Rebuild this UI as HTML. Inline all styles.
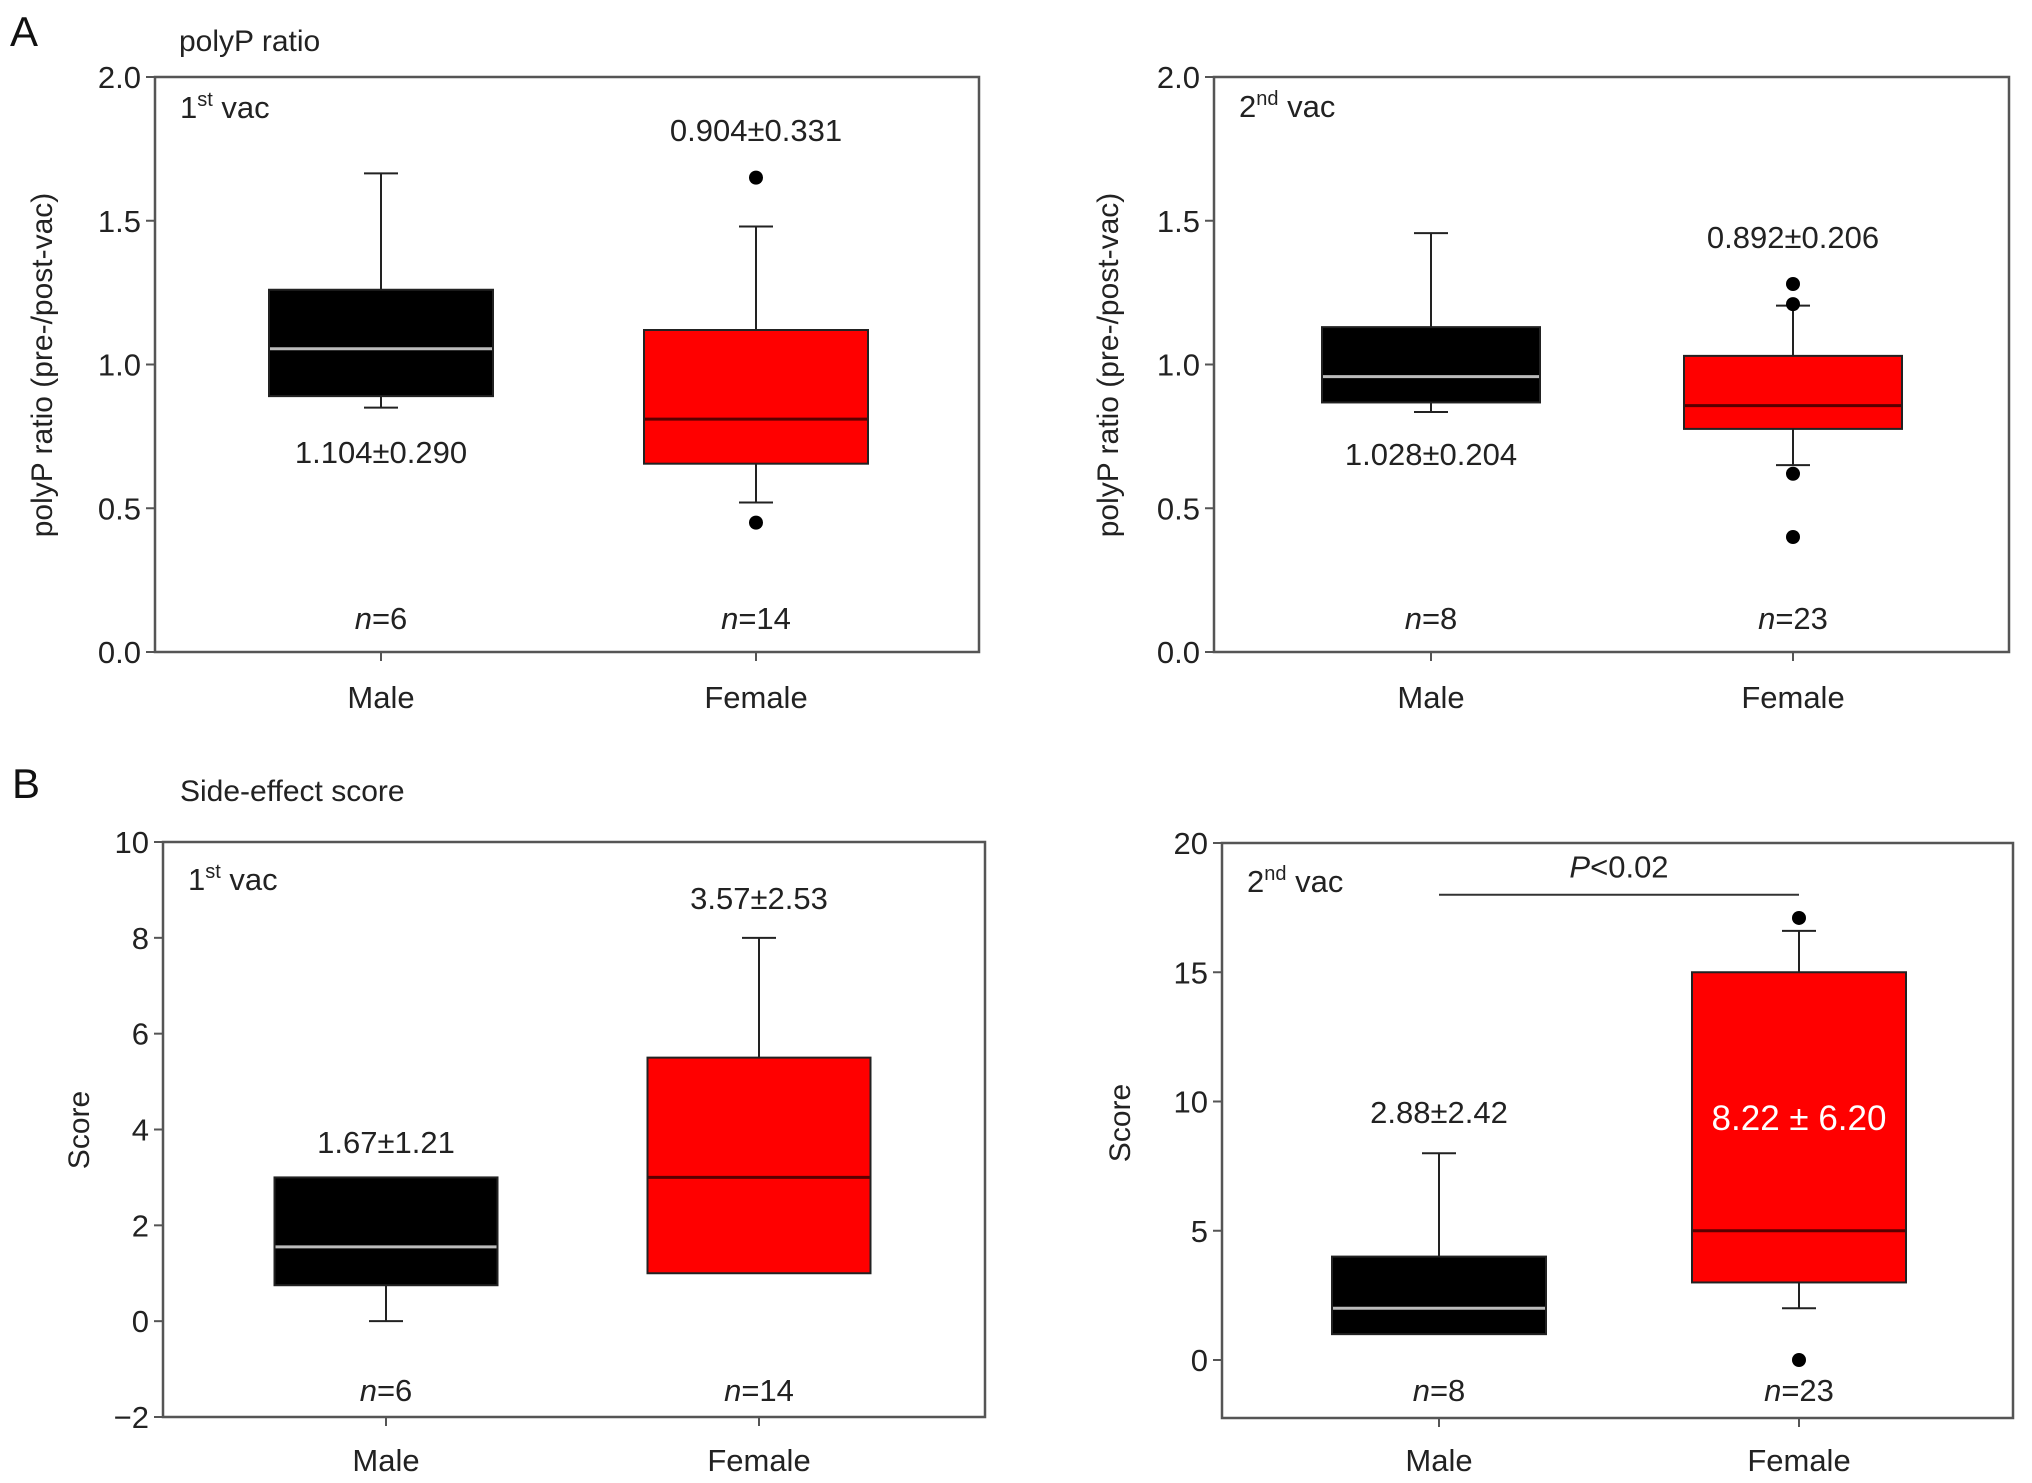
<!DOCTYPE html>
<html><head><meta charset="utf-8"><style>
html,body{margin:0;padding:0;background:#fff;}
svg{display:block;font-family:"Liberation Sans",Arial,sans-serif;}
</style></head><body>
<svg id="fig" width="2032" height="1483" viewBox="0 0 2032 1483" xmlns="http://www.w3.org/2000/svg">
<text x="10" y="46" font-size="42" fill="#111">A</text>
<text x="179" y="51" font-size="30" fill="#222">polyP ratio</text>
<text x="12" y="798" font-size="42" fill="#111">B</text>
<text x="180" y="801" font-size="30" fill="#222">Side-effect score</text>
</svg>
<script>
// ---- data ----
const categories = ["Male", "Female"];
const tickLabelsA = ["0.0","0.5","1.0","1.5","2.0"];
const tickValuesA = [0, 0.5, 1.0, 1.5, 2.0];
const tickLabelsB1 = ["\u22122","0","2","4","6","8","10"];
const tickValuesB1 = [-2,0,2,4,6,8,10];
const tickLabelsB2 = ["0","5","10","15","20"];
const tickValuesB2 = [0,5,10,15,20];
// [whiskerLow, Q1, median, Q3, whiskerHigh]
const a1Male = [0.85, 0.89, 1.055, 1.26, 1.665];
const a1Female = [0.52, 0.655, 0.81, 1.12, 1.48];
const a1FemaleOutliers = [1.65, 0.45];
const a2Male = [0.835, 0.868, 0.958, 1.13, 1.457];
const a2Female = [0.65, 0.776, 0.857, 1.03, 1.205];
const a2FemaleOutliers = [1.28, 1.21, 0.62, 0.40];
const b1Male = [0, 0.75, 1.55, 3.0, 3.0];
const b1Female = [1.0, 1.0, 3.0, 5.5, 8.0];
const b2Male = [1.0, 1.0, 2.0, 4.0, 8.0];
const b2Female = [2.0, 3.0, 5.0, 15.0, 16.6];
const b2FemaleOutliers = [17.1, 0];
const statsA1 = ["1.104\u00b10.290", "0.904\u00b10.331"];
const statsA2 = ["1.028\u00b10.204", "0.892\u00b10.206"];
const statsB1 = ["1.67\u00b11.21", "3.57\u00b12.53"];
const statsB2 = ["2.88\u00b12.42", "8.22 \u00b1 6.20"];
const nA1 = ["6","14"], nA2 = ["8","23"], nB1 = ["6","14"], nB2 = ["8","23"];
const sigValue = 18;

const NS = "http://www.w3.org/2000/svg";
const svg = document.getElementById("fig");
function mk(tag, attrs, parent){
  const e = document.createElementNS(NS, tag);
  for (const k in attrs) e.setAttribute(k, attrs[k]);
  (parent||svg).appendChild(e);
  return e;
}

function panel(cfg){
  const g = mk("g", {});
  
  
  const y = v => cfg.y0 + (v - cfg.vmin) / (cfg.vmax - cfg.vmin) * (cfg.y1 - cfg.y0);
  const xc = i => cfg.cx[i];
  const fb = cfg.frameBottom || cfg.y0;
  const fr = mk("rect", {x:cfg.left, y:cfg.y1, width:cfg.right-cfg.left, height:fb-cfg.y1, fill:"none", stroke:"#555", "stroke-width":2.5}, g);
  
  
  cfg.tickValues.forEach((v,i)=>{
    const t = mk("line", {x1:cfg.left-9, x2:cfg.left, y1:y(v), y2:y(v), stroke:"#555", "stroke-width":2}, g);
    
    
    const l = mk("text", {x:cfg.left-14, y:y(v)+11, "font-size":31, "text-anchor":"end", fill:"#222"}, g);
    l.textContent = cfg.tickLabels[i];
    
    
  });
  const yt = mk("text", {x:0, y:0, "font-size":30, "text-anchor":"middle", fill:"#222", transform:"translate("+cfg.ytx+","+cfg.yty+") rotate(-90)"}, g);
  yt.textContent = cfg.ytitle;
  
  
  const vl = mk("text", {x:cfg.left+25, y:cfg.vacY, "font-size":31, fill:"#222"}, g);
  vl.innerHTML = cfg.vacNum + '<tspan dy="-12" font-size="20">' + cfg.vacSup + '</tspan><tspan dy="12"> vac</tspan>';
  
  
  categories.forEach((c,i)=>{
    const t = mk("line", {x1:xc(i), x2:xc(i), y1:fb, y2:fb+9, stroke:"#555", "stroke-width":2}, g);
    
    
    const l = mk("text", {x:xc(i), y:cfg.catY, "font-size":31, "text-anchor":"middle", fill:"#222"}, g);
    l.textContent = c;
    
    
    const n = mk("text", {x:xc(i), y:cfg.nY, "font-size":31, "text-anchor":"middle", fill:"#222"}, g);
    n.innerHTML = '<tspan font-style="italic">n</tspan>=' + cfg.n[i];
    
    
  });
  cfg.series.forEach((s,i)=>{
    const cx = xc(i), hw = cfg.boxW/2, cap = 17;
    const col = i===0 ? "#000" : "#ff0000";
    const medCol = i===0 ? "#bbb" : "#5a0000";
    const lw = mk("line", {x1:cx, x2:cx, y1:y(s[1]), y2:y(s[0]), stroke:"#222", "stroke-width":2}, g);
    
    
    if (s[0] !== s[1]) {
      const lc = mk("line", {x1:cx-cap, x2:cx+cap, y1:y(s[0]), y2:y(s[0]), stroke:"#222", "stroke-width":2}, g);
      
      
    }
    const hw2 = mk("line", {x1:cx, x2:cx, y1:y(s[3]), y2:y(s[4]), stroke:"#222", "stroke-width":2}, g);
    
    
    if (s[4] !== s[3]) {
      const hc = mk("line", {x1:cx-cap, x2:cx+cap, y1:y(s[4]), y2:y(s[4]), stroke:"#222", "stroke-width":2}, g);
      
      
    }
    const b = mk("rect", {x:cx-hw, y:y(s[3]), width:cfg.boxW, height:y(s[1])-y(s[3]), fill:col, stroke:"#222", "stroke-width":2}, g);
    
    
    const m = mk("line", {x1:cx-hw+1, x2:cx+hw-1, y1:y(s[2]), y2:y(s[2]), stroke:medCol, "stroke-width":3}, g);
    
    
  });
  (cfg.outliers||[]).forEach(v=>{
    const o = mk("circle", {cx:xc(1), cy:y(v), r:7, fill:"#000"}, g);
    
    
  });
  cfg.stats.forEach((s,i)=>{
    const white = cfg.whiteStat && i===1;
    const t = mk("text", {x:xc(i), y:cfg.statY[i], "font-size": white?35:31, "text-anchor":"middle", fill: white?"#fff":"#222"}, g);
    t.textContent = s;
    
    
  });
  if (cfg.sig) {
    const sl = mk("line", {x1:xc(0), x2:xc(1), y1:y(sigValue), y2:y(sigValue), stroke:"#333", "stroke-width":2}, g);
    
    
    const st = mk("text", {x:(xc(0)+xc(1))/2, y:y(sigValue)-17, "font-size":31, "text-anchor":"middle", fill:"#222"}, g);
    st.innerHTML = '<tspan font-style="italic">P</tspan>&lt;0.02';
    
    
  }
}

panel({name:"panel-a1-first-vac", left:155, right:979, y0:652, y1:77, vmin:0, vmax:2, cx:[381,756], boxW:224,
  tickValues:tickValuesA, tickLabels:tickLabelsA, ytitle:"polyP ratio (pre-/post-vac)", ytx:52, yty:365,
  vacNum:"1", vacSup:"st", vacY:118, catY:708, nY:629, n:nA1, series:[a1Male,a1Female], outliers:a1FemaleOutliers,
  stats:statsA1, statY:[463,141]});
panel({name:"panel-a2-second-vac", left:1214, right:2009, y0:652, y1:77, vmin:0, vmax:2, cx:[1431,1793], boxW:218,
  tickValues:tickValuesA, tickLabels:tickLabelsA, ytitle:"polyP ratio (pre-/post-vac)", ytx:1118, yty:365,
  vacNum:"2", vacSup:"nd", vacY:117, catY:708, nY:629, n:nA2, series:[a2Male,a2Female], outliers:a2FemaleOutliers,
  stats:statsA2, statY:[465,248]});
panel({name:"panel-b1-first-vac", left:163, right:985, y0:1417, y1:842, vmin:-2, vmax:10, cx:[386,759], boxW:223,
  tickValues:tickValuesB1, tickLabels:tickLabelsB1, ytitle:"Score", ytx:89, yty:1130,
  vacNum:"1", vacSup:"st", vacY:890, catY:1471, nY:1401, n:nB1, series:[b1Male,b1Female], outliers:[],
  stats:statsB1, statY:[1153,909]});
panel({name:"panel-b2-second-vac", left:1222, right:2013, y0:1360, y1:843, vmin:0, vmax:20, frameBottom:1418, cx:[1439,1799], boxW:214,
  tickValues:tickValuesB2, tickLabels:tickLabelsB2, ytitle:"Score", ytx:1130, yty:1123,
  vacNum:"2", vacSup:"nd", vacY:892, catY:1471, nY:1401, n:nB2, series:[b2Male,b2Female], outliers:b2FemaleOutliers,
  stats:statsB2, statY:[1123,1130], whiteStat:true, sig:true});
</script>
</body></html>
